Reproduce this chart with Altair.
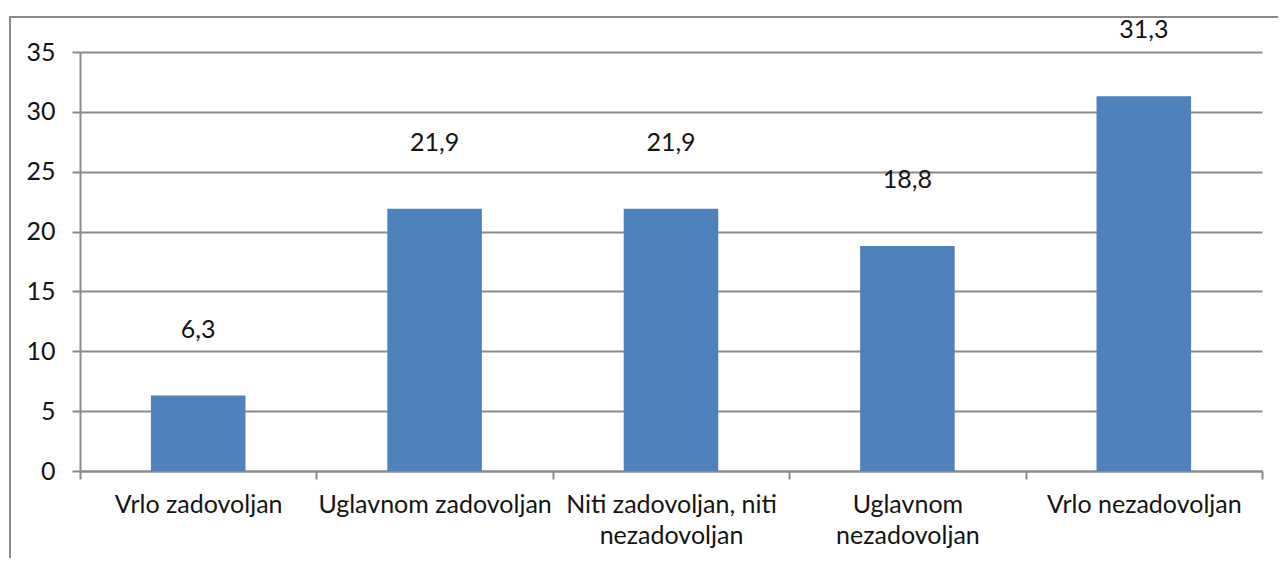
import altair as alt
import pandas as pd

categories = ["Vrlo zadovoljan", "Uglavnom zadovoljan", "Niti zadovoljan, niti nezadovoljan",
              "Uglavnom nezadovoljan", "Vrlo nezadovoljan"]
values = [6.3, 21.9, 21.9, 18.8, 31.3]
y_ticks = [0, 5, 10, 15, 20, 25, 30, 35]
label_lines = {
    "Niti zadovoljan, niti nezadovoljan": ["Niti zadovoljan, niti", "nezadovoljan"],
    "Uglavnom nezadovoljan": ["Uglavnom", "nezadovoljan"],
}

df = pd.DataFrame({
    "cat": categories,
    "val": values,
    "lbl": [f"{v:.1f}".replace(".", ",") for v in values],
})

expr = "datum.label"
for k, lines in label_lines.items():
    arr = "[" + ",".join(f"'{s}'" for s in lines) + "]"
    expr = f"datum.value == '{k}' ? {arr} : ({expr})"

FONT = "Lato"
FS = 25
GRAY = "#8a8a8a"
TXT = "#141414"

x = alt.X("cat:N", sort=categories, title=None,
          scale=alt.Scale(paddingInner=0, paddingOuter=0),
          axis=alt.Axis(labelAngle=0, tickBand="extent", tickSize=8, tickColor=GRAY,
                        tickWidth=2, domainColor=GRAY, domainWidth=2, labelPadding=13,
                        labelExpr=expr, labelLineHeight=31, labelFont=FONT,
                        labelFontSize=FS, labelColor=TXT, labelLimit=400))
y = alt.Y("val:Q", title=None,
          scale=alt.Scale(domain=[0, 35], nice=False),
          axis=alt.Axis(values=y_ticks, tickSize=8, tickColor=GRAY, tickWidth=2,
                        domainColor=GRAY, domainWidth=2, gridColor=GRAY, gridWidth=2,
                        labelPadding=17, labelFont=FONT, labelFontSize=FS, labelColor=TXT))

bars = alt.Chart(df).mark_bar(color="#4F81BD", width=alt.RelativeBandSize(0.4)).encode(x=x, y=y)
texts = alt.Chart(df).mark_text(dy=-66, font=FONT, fontSize=FS, color=TXT,
                                baseline="middle").encode(x=x, y=y, text="lbl:N")
frame = alt.Chart(pd.DataFrame({"k": [0]})).mark_rect(
    fill=None, stroke=GRAY, strokeWidth=2).encode(
    x=alt.value(-70), y=alt.value(-35), x2=alt.value(1400), y2=alt.value(700))

chart = alt.layer(frame, bars, texts).properties(
    width=1182, height=419,
    autosize=alt.AutoSizeParams(type="none"),
    padding={"left": 72, "top": 44, "right": 16, "bottom": 87},
).configure_view(stroke=None).configure_axisY(domain=True)

chart.save("out.html", embed_options={"renderer": "svg", "actions": False})
